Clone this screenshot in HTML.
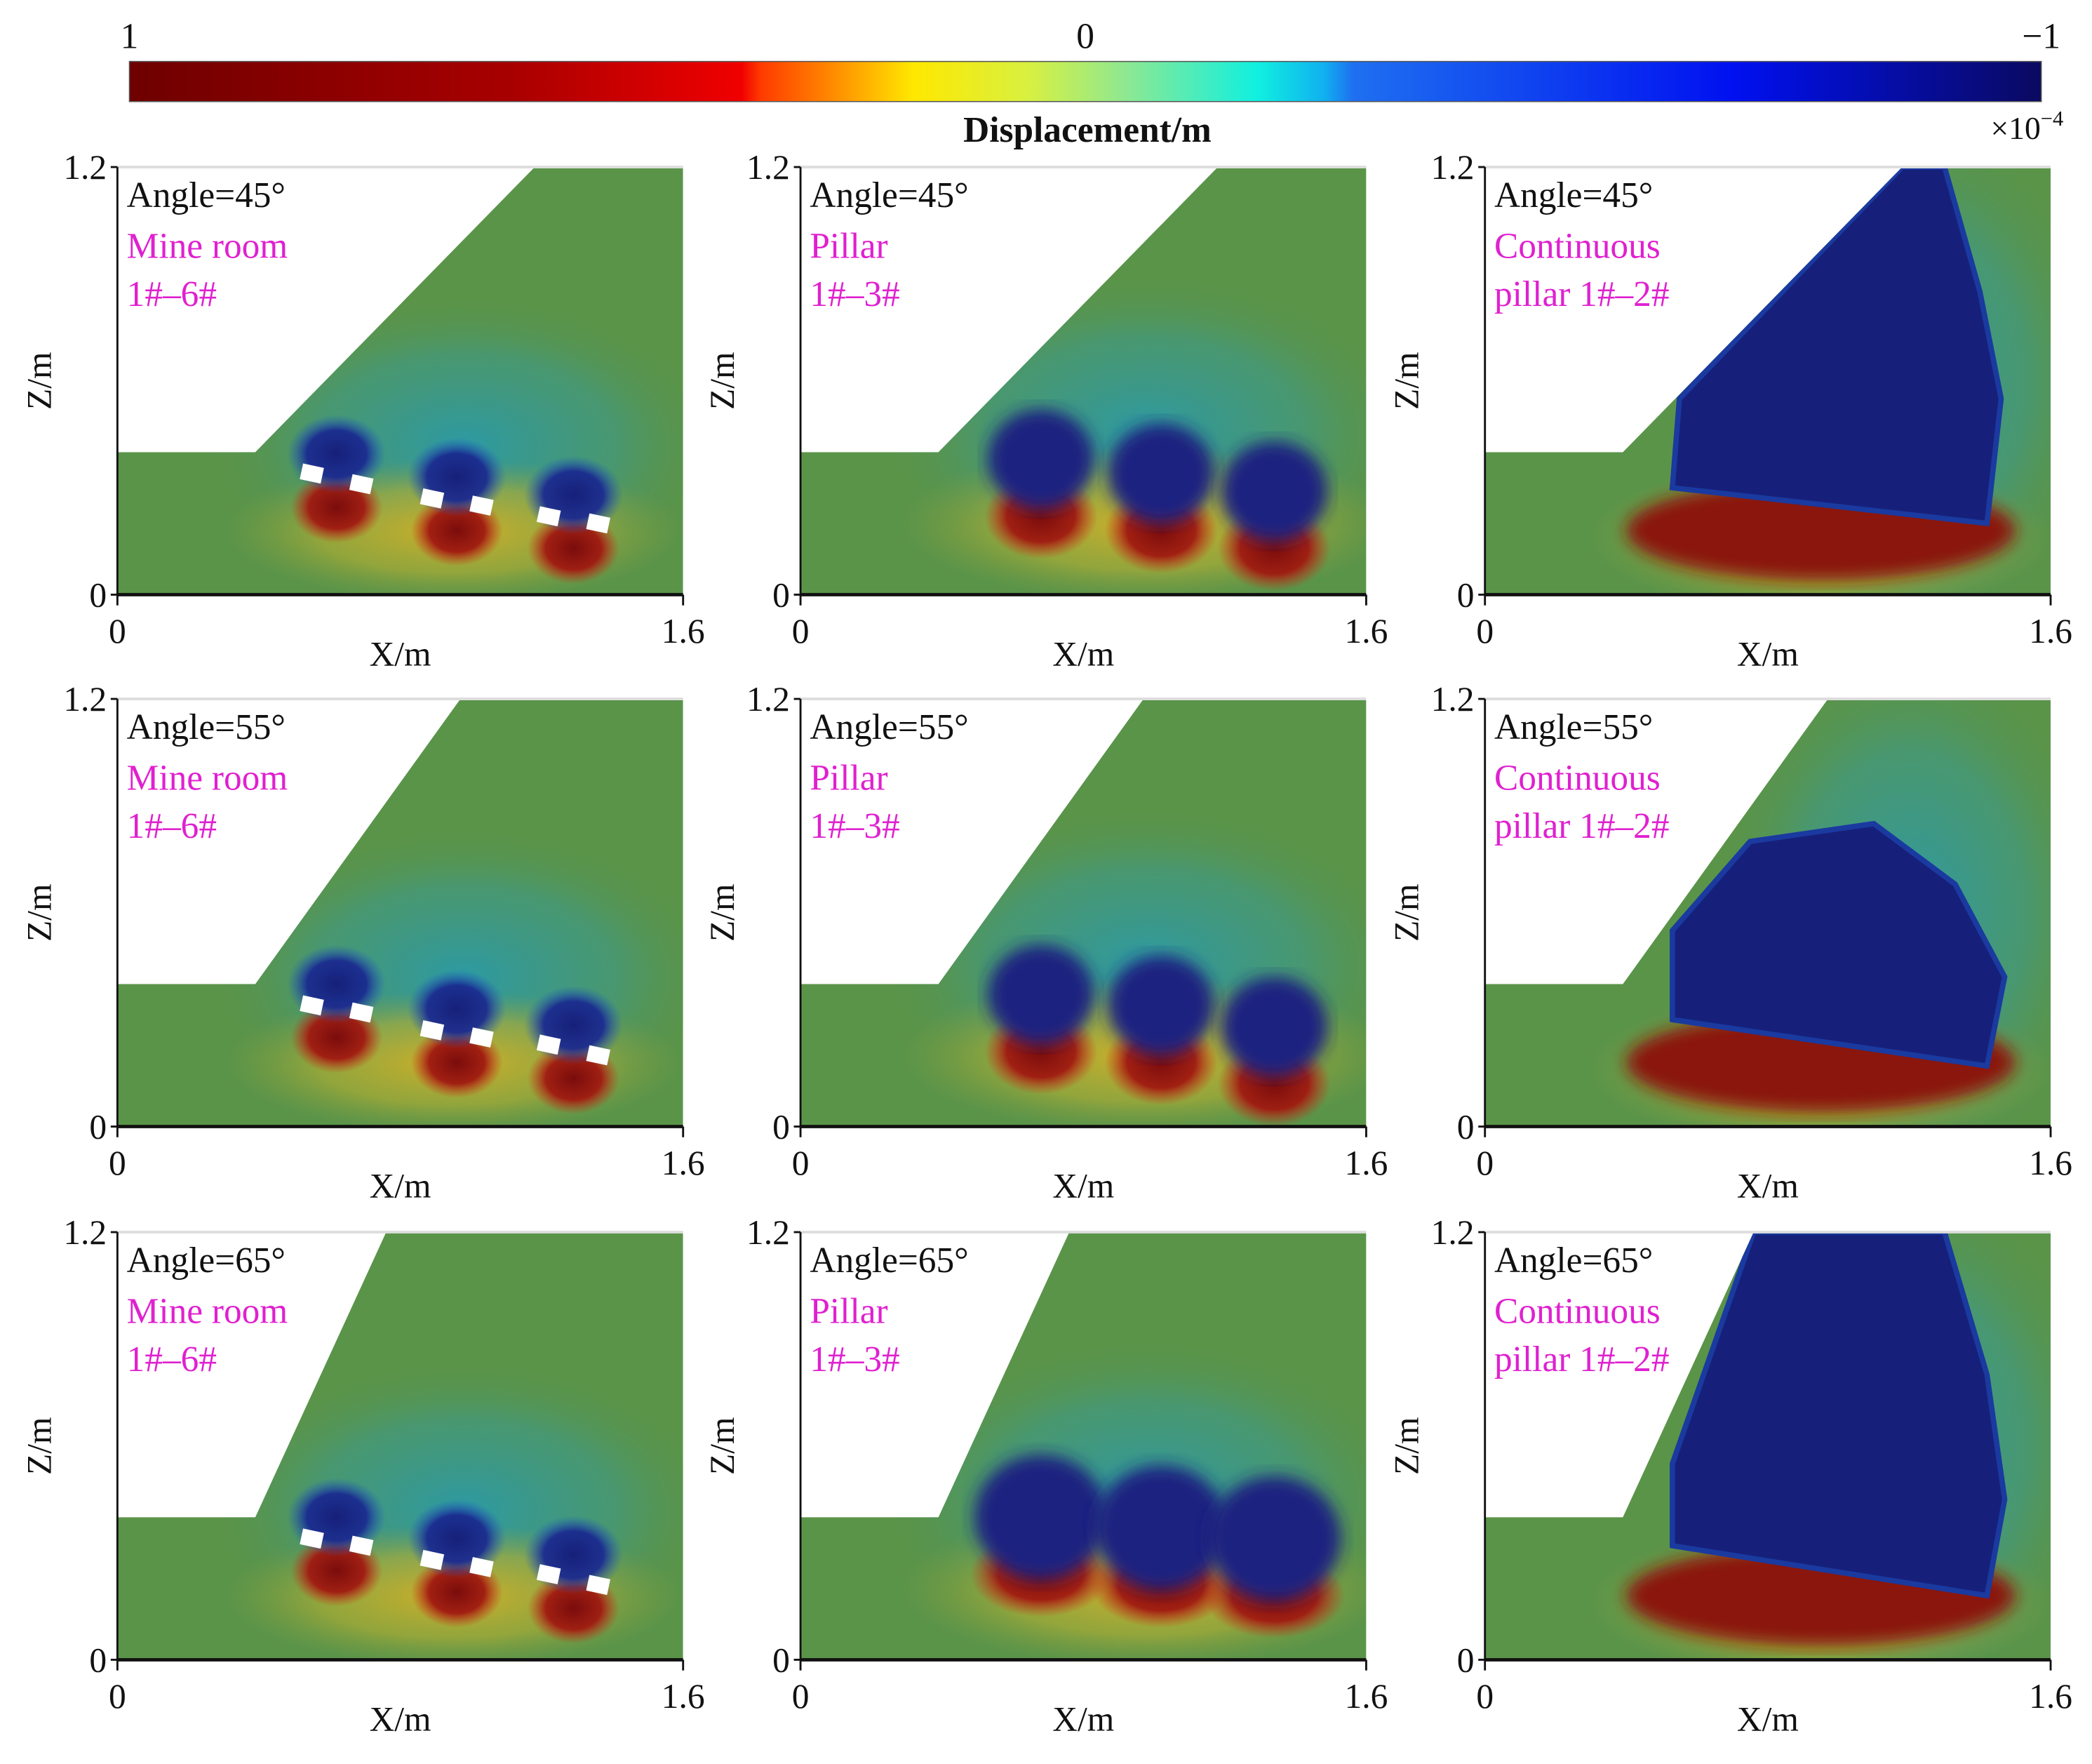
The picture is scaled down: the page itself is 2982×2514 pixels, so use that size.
<!DOCTYPE html>
<html><head><meta charset="utf-8">
<style>
html,body{margin:0;padding:0;background:#fff;}
svg{display:block;}
text{font-family:"Liberation Serif",serif;}
</style></head>
<body>
<svg id="fig" xmlns="http://www.w3.org/2000/svg" width="2982" height="2514" viewBox="0 0 1568 1320" preserveAspectRatio="none">
<defs>
<linearGradient id="cbar" x1="0" x2="1" y1="0" y2="0">
<stop offset="0" stop-color="#6e0000"/>
<stop offset="0.2" stop-color="#a80000"/>
<stop offset="0.32" stop-color="#f00000"/>
<stop offset="0.33" stop-color="#ff3a00"/>
<stop offset="0.37" stop-color="#ff9000"/>
<stop offset="0.41" stop-color="#ffe800"/>
<stop offset="0.47" stop-color="#d8f040"/>
<stop offset="0.52" stop-color="#90e890"/>
<stop offset="0.59" stop-color="#10f0e0"/>
<stop offset="0.625" stop-color="#10b0f0"/>
<stop offset="0.64" stop-color="#1e70f0"/>
<stop offset="0.84" stop-color="#0010f0"/>
<stop offset="1" stop-color="#0a0a60"/>
</linearGradient>
<radialGradient id="halo"><stop offset="0" stop-color="#d8b020" stop-opacity="0.95"/><stop offset="0.6" stop-color="#b8b030" stop-opacity="0.6"/><stop offset="1" stop-color="#8aa040" stop-opacity="0"/></radialGradient>
<radialGradient id="red"><stop offset="0" stop-color="#7a0c0c"/><stop offset="0.6" stop-color="#a01810" stop-opacity="0.95"/><stop offset="1" stop-color="#c83018" stop-opacity="0"/></radialGradient>
<radialGradient id="teal"><stop offset="0" stop-color="#2a9aa8" stop-opacity="0.95"/><stop offset="0.6" stop-color="#3a9a90" stop-opacity="0.55"/><stop offset="1" stop-color="#5a9449" stop-opacity="0"/></radialGradient>
<radialGradient id="blue"><stop offset="0" stop-color="#16207a"/><stop offset="0.6" stop-color="#1a2a90" stop-opacity="0.95"/><stop offset="1" stop-color="#2060c0" stop-opacity="0"/></radialGradient>
<filter id="soft"><feGaussianBlur stdDeviation="6"/></filter>
</defs>
<g id="root"></g>
</svg>
<script>
const NS='http://www.w3.org/2000/svg';
// ---- data ----
const angles=[45,55,65];
const caseLabels=[["Mine room","1#–6#"],["Pillar","1#–3#"],["Continuous","pillar 1#–2#"]];
const xTicks=[0,1.6];
const zTicks=[0,1.2];
const cbarTicks=[1,0,-1];
const toeX=0.39, groundZ=0.40;
const topX=[1.18,0.97,0.76];
const roomX=[0.55,0.69,0.89,1.03,1.22,1.36];
const roomZ=[[0.34,0.31,0.27,0.25,0.22,0.20],[0.34,0.32,0.27,0.25,0.23,0.20],[0.34,0.32,0.28,0.26,0.24,0.21]];
const pillarX=[0.68,1.02,1.34];
const pillarZ=[[0.34,0.30,0.25],[0.33,0.30,0.24],[0.36,0.33,0.30]];
const contZone=[
 [[0.53,0.30],[0.55,0.55],[1.18,1.2],[1.30,1.2],[1.40,0.85],[1.46,0.55],[1.42,0.20],[0.53,0.30]],
 [[0.53,0.30],[0.53,0.55],[0.75,0.80],[1.10,0.85],[1.33,0.68],[1.47,0.42],[1.42,0.17],[0.53,0.30]],
 [[0.53,0.32],[0.53,0.55],[0.76,1.2],[1.30,1.2],[1.42,0.80],[1.47,0.45],[1.42,0.18],[0.53,0.32]]];

const root=document.getElementById('root');
function el(tag,attrs,parent){const e=document.createElementNS(NS,tag);for(const k in attrs)e.setAttribute(k,attrs[k]);(parent||root).appendChild(e);return e;}

const CB={x0:97,x1:1530,y:46,h:30};
const cb=el('rect',{x:CB.x0,y:CB.y,width:CB.x1-CB.x0,height:CB.h,fill:'url(#cbar)',stroke:'#555','stroke-width':0.8});


cbarTicks.forEach((v,i)=>{
 const x=CB.x0+(1-v)/2*(CB.x1-CB.x0);
 const t=el('text',{x:x,y:36,'font-size':27,'text-anchor':'middle',fill:'#111'});
 t.textContent=v<0?'−1':String(v);
 
 
});
let t=el('text',{x:815,y:106,'font-size':27,'font-weight':'bold','text-anchor':'middle',fill:'#111'});
t.textContent='Displacement/m';


t=el('text',{x:1492,y:104,'font-size':24,fill:'#111'});
t.innerHTML='×10<tspan dy="-10" font-size="16">−4</tspan>';



const colX=[88,600,1113], rowY=[125,523,922], PW=424, PH=320;
function sx(c,x){return colX[c]+x/1.6*PW;}
function sy(r,z){return rowY[r]+PH-z/1.2*PH;}

angles.forEach((ang,r)=>{
 [0,1,2].forEach(c=>{
  const g=el('g',{});
  
  
  const pid='clip'+r+c;
  const cp=el('clipPath',{id:pid},g);
  const pts=[[0,0],[0,groundZ],[toeX,groundZ],[topX[r],1.2],[1.6,1.2],[1.6,0]].map(p=>sx(c,p[0])+','+sy(r,p[1])).join(' ');
  el('polygon',{points:pts},cp);
  const body=el('g',{'clip-path':'url(#'+pid+')'},g);
  const rock=el('polygon',{points:pts,fill:'#5a9449'},body);
  
  
  const X=x=>sx(c,x), Z=z=>sy(r,z), W=w=>w/1.6*PW, H=h=>h/1.2*PH;
  if(c===0){
   el('ellipse',{cx:X(0.98),cy:Z(0.42),rx:W(0.72),ry:H(0.42),fill:'url(#teal)'},body);
   el('ellipse',{cx:X(0.95),cy:Z(0.18),rx:W(0.65),ry:H(0.20),fill:'url(#halo)'},body);
   for(let p=0;p<3;p++){
    const mx=(roomX[2*p]+roomX[2*p+1])/2, mz=(roomZ[r][2*p]+roomZ[r][2*p+1])/2;
    const rd=el('ellipse',{cx:X(mx),cy:Z(mz-0.08),rx:W(0.13),ry:H(0.10),fill:'url(#red)'},body);
    
    
    const bl=el('ellipse',{cx:X(mx),cy:Z(mz+0.07),rx:W(0.14),ry:H(0.11),fill:'url(#blue)'},body);
    
    
   }
   roomX.forEach((x,i)=>{
    const o=el('rect',{x:X(x)-8,y:Z(roomZ[r][i])-6,width:16,height:12,fill:'#fff',transform:'rotate(12 '+X(x)+' '+Z(roomZ[r][i])+')'},body);
    
    
   });
  } else if(c===1){
   el('ellipse',{cx:X(0.98),cy:Z(0.45),rx:W(0.75),ry:H(0.45),fill:'url(#teal)'},body);
   el('ellipse',{cx:X(0.98),cy:Z(0.20),rx:W(0.70),ry:H(0.22),fill:'url(#halo)'},body);
   pillarX.forEach((x,i)=>{
    const z=pillarZ[r][i], big=(r===2)?1.25:1;
    const rd=el('ellipse',{cx:X(x),cy:Z(z-0.12),rx:W(0.16)*big,ry:H(0.12),fill:'url(#red)'},body);
    
    
    const bl=el('ellipse',{cx:X(x),cy:Z(z+0.04),rx:W(0.15)*big,ry:H(0.14)*big,fill:'#1a2480',filter:'url(#soft)'},body);
    
    
   });
  } else {
   el('ellipse',{cx:X(1.2),cy:Z(0.6),rx:W(0.55),ry:H(0.75),fill:'url(#teal)'},body);
   el('ellipse',{cx:X(0.95),cy:Z(0.16),rx:W(0.66),ry:H(0.22),fill:'url(#halo)'},body);
   const rd=el('ellipse',{cx:X(0.95),cy:Z(0.18),rx:W(0.55),ry:H(0.14),fill:'#8a1410',filter:'url(#soft)'},body);
   
   
   const zp=contZone[r].map(p=>X(p[0])+','+Z(p[1])).join(' ');
   const bl=el('polygon',{points:zp,fill:'#16207a',stroke:'#1a3aa0','stroke-width':4},body);
   
   
  }
  el('line',{x1:X(0),x2:X(1.6),y1:Z(1.2),y2:Z(1.2),stroke:'#ddd','stroke-width':2},g);
  const ya=el('line',{x1:X(0),x2:X(0),y1:Z(1.2),y2:Z(0),stroke:'#111','stroke-width':1.5},g);
  
  
  const xa=el('line',{x1:X(0),x2:X(1.6),y1:Z(0),y2:Z(0),stroke:'#111','stroke-width':2.5},g);
  
  
  zTicks.forEach(v=>{
   el('line',{x1:X(0)-5,x2:X(0),y1:Z(v),y2:Z(v),stroke:'#111','stroke-width':1.5},g);
   const tl=el('text',{x:X(0)-8,y:Z(v)+9,'font-size':26,'text-anchor':'end',fill:'#111'},g);
   tl.textContent=String(v);
   
   
  });
  xTicks.forEach(v=>{
   el('line',{x1:X(v),x2:X(v),y1:Z(0),y2:Z(0)+8,stroke:'#111','stroke-width':1.5},g);
   const tl=el('text',{x:X(v),y:Z(0)+36,'font-size':26,'text-anchor':'middle',fill:'#111'},g);
   tl.textContent=String(v);
   
   
  });
  const xt=el('text',{x:X(0.8),y:Z(0)+53,'font-size':26,'text-anchor':'middle',fill:'#111'},g);
  xt.textContent='X/m';
  
  
  const zt=el('text',{x:0,y:0,'font-size':26,'text-anchor':'middle',fill:'#111',transform:'translate('+(X(0)-50)+','+Z(0.6)+') rotate(-90)'},g);
  zt.textContent='Z/m';
  
  
  const a=el('text',{x:X(0)+7,y:Z(1.2)+30,'font-size':27,fill:'#111'},g);
  a.textContent='Angle='+ang+'°';
  
  
  caseLabels[c].forEach((s,i)=>{
   const l=el('text',{x:X(0)+7,y:Z(1.2)+68+i*36,'font-size':27,fill:'#e020d0'},g);
   l.textContent=s;
   
   
  });
 });
});
</script>
</body></html>
